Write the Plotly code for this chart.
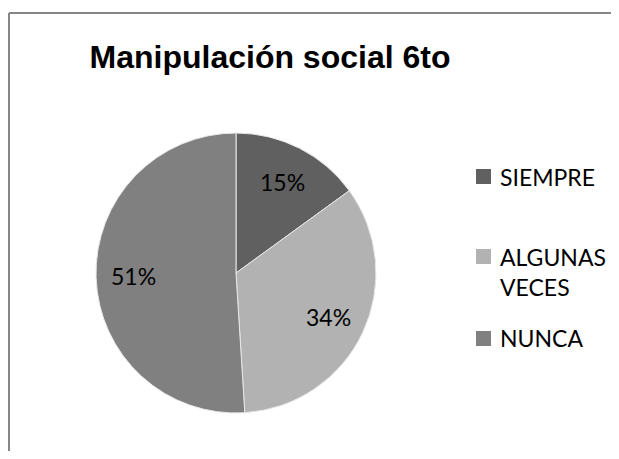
import math
import plotly.graph_objects as go

W, H = 619, 459
OX, OY = 8, 8  # page body margin offset
FW, FH = W - 2 * OX, H - 2 * OY  # figure size that fits the window

title_text = "Manipulación social 6to"
categories = ["SIEMPRE", "ALGUNAS VECES", "NUNCA"]
legend_labels = ["SIEMPRE", "ALGUNAS<br>VECES", "NUNCA"]
values = [15, 34, 51]
colors = ["#606060", "#b2b2b2", "#808080"]

# pixel geometry (styles)
pie_cx, pie_cy, pie_r = 236, 273, 140
label_r_frac = 0.73
legend_sq_x0, legend_sq_size = 476, 15
legend_text_x = 498
legend_sq_top = [169, 249, 331]
legend_text_y = [177, 272, 338]
font_family = "Lato"

def px(x):
    return (x - OX) / FW

def py(y):
    return 1 - (y - OY) / FH

fig = go.Figure()
fig.add_trace(go.Pie(
    labels=categories,
    values=values,
    sort=False,
    direction="clockwise",
    rotation=0,
    marker=dict(colors=colors, line=dict(color="#e8e8e8", width=1)),
    textinfo="none",
    domain=dict(x=[px(pie_cx - pie_r), px(pie_cx + pie_r)],
                y=[py(pie_cy + pie_r), py(pie_cy - pie_r)]),
    showlegend=False,
    hoverinfo="label+percent",
))

frame = dict(color="#868686", width=2)
shapes = [
    dict(type="line", xref="paper", yref="paper",
         x0=px(9), x1=px(9), y0=py(460), y1=py(13), line=frame),
    dict(type="line", xref="paper", yref="paper",
         x0=px(9), x1=px(FW + OX), y0=py(13), y1=py(13), line=frame),
]
annotations = []

# data labels placed along each slice's mid angle
total = sum(values)
cum = 0
for v in values:
    mid = (cum + v / 2) / total * 2 * math.pi
    cum += v
    lx = pie_cx + label_r_frac * pie_r * math.sin(mid)
    ly = pie_cy - label_r_frac * pie_r * math.cos(mid)
    annotations.append(dict(text=f"{round(v / total * 100)}%", xref="paper", yref="paper",
                            x=px(lx), y=py(ly), xanchor="center", yanchor="middle",
                            showarrow=False,
                            font=dict(family=font_family, size=23, color="#000000")))

for lab, col, top, ty in zip(legend_labels, colors, legend_sq_top, legend_text_y):
    shapes.append(dict(type="rect", xref="paper", yref="paper",
                       x0=px(legend_sq_x0), x1=px(legend_sq_x0 + legend_sq_size),
                       y0=py(top + legend_sq_size), y1=py(top),
                       fillcolor=col, line=dict(width=0)))
    annotations.append(dict(text=lab, xref="paper", yref="paper",
                            x=px(legend_text_x), y=py(ty),
                            xanchor="left", yanchor="middle",
                            align="left", showarrow=False,
                            font=dict(family=font_family, size=23, color="#000000")))

fig.update_layout(
    width=FW, height=FH,
    margin=dict(l=0, r=0, t=0, b=0),
    paper_bgcolor="white",
    plot_bgcolor="white",
    title=dict(text=f"<b>{title_text}</b>", x=px(270), xanchor="center",
               y=py(57), yanchor="middle", xref="paper", yref="container",
               font=dict(family="Liberation Sans", size=32, color="#000000")),
    shapes=shapes,
    annotations=annotations,
)

fig.write_html("out.html")
